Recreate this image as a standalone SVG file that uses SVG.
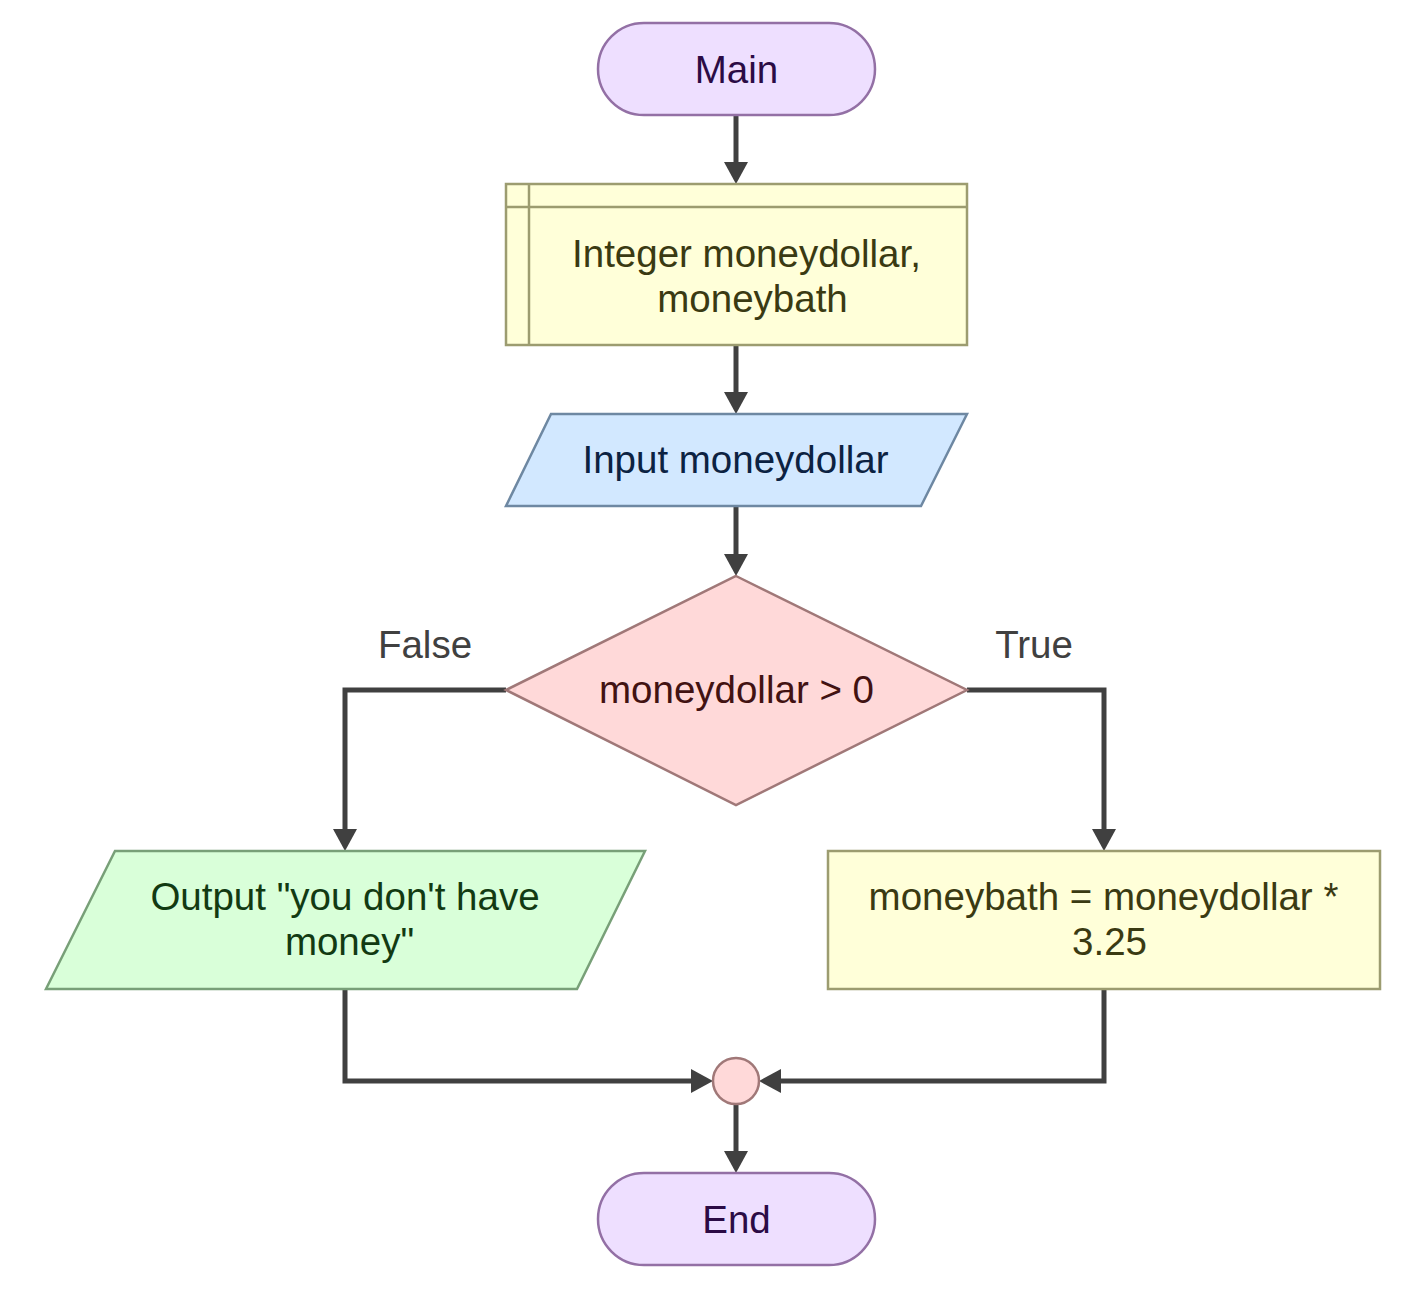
<svg xmlns="http://www.w3.org/2000/svg" width="1404" height="1289" viewBox="0 0 1404 1289">
<style>
text{font-family:"Liberation Sans",Arial,sans-serif;font-size:38.5px;text-anchor:middle}
.term{fill:#eedfff;stroke:#9370a5;stroke-width:2.5}
.term-t{fill:#2b0b45}
.proc{fill:#ffffd9;stroke:#9c9c70;stroke-width:2.5}
.proc-t{fill:#3a3a12}
.inp{fill:#d2e8ff;stroke:#6e88a2;stroke-width:2.5}
.inp-t{fill:#0c2242}
.dec{fill:#ffd9d9;stroke:#a07878;stroke-width:2.5}
.dec-t{fill:#421212}
.out{fill:#d9ffd9;stroke:#78a078;stroke-width:2.5}
.out-t{fill:#123a12}
.edge{fill:none;stroke:#404040;stroke-width:5;stroke-linejoin:miter;marker-end:url(#arrow)}
.lbl{fill:#404040;text-anchor:middle}
</style>
<defs>
<marker id="arrow" viewBox="0 0 22 24" markerWidth="22" markerHeight="24" refX="12" refY="12" orient="auto" markerUnits="userSpaceOnUse">
<path d="M0,0 L22,12 L0,24 Z" fill="#404040"/>
</marker>
</defs>
<g id="connectors">
<path class="edge" d="M736,115 V174"/>
<path class="edge" d="M736,345 V404"/>
<path class="edge" d="M736,506 V566"/>
<path class="edge" d="M506,690 H345 V841"/>
<path class="edge" d="M967,690 H1104 V841"/>
<path class="edge" d="M345,989 V1081 H703"/>
<path class="edge" d="M1104,989 V1081 H769"/>
<path class="edge" d="M736,1104 V1163"/>
<text class="lbl" x="425" y="658">False</text>
<text class="lbl" x="1034" y="658">True</text>
</g>
<g id="main">
<rect class="term" x="598" y="23" width="277" height="92" rx="46" ry="46"/>
<text class="term-t" x="736.5" y="83">Main</text>
</g>
<g id="declare">
<rect class="proc" x="506" y="184" width="461" height="161"/>
<line x1="506" y1="207" x2="967" y2="207" stroke="#9c9c70" stroke-width="2.5"/>
<line x1="529" y1="184" x2="529" y2="345" stroke="#9c9c70" stroke-width="2.5"/>
<text class="proc-t" x="746.5" y="267">Integer moneydollar,</text>
<text class="proc-t" x="752.5" y="312">moneybath</text>
</g>
<g id="input">
<polygon class="inp" points="551,414 967,414 921,506 506,506"/>
<text class="inp-t" x="735.5" y="473">Input moneydollar</text>
</g>
<g id="decision">
<polygon class="dec" points="736,576 967,690 736,805 506,690"/>
<text class="dec-t" x="736.5" y="703">moneydollar &gt; 0</text>
</g>
<g id="output">
<polygon class="out" points="115,851 645,851 577,989 46,989"/>
<text class="out-t" x="345" y="910">Output "you don't have</text>
<text class="out-t" x="349.5" y="955">money"</text>
</g>
<g id="assign">
<rect class="proc" x="828" y="851" width="552" height="138"/>
<text class="proc-t" x="1103.5" y="910">moneybath = moneydollar *</text>
<text class="proc-t" x="1109.5" y="955">3.25</text>
</g>
<g id="junction">
<circle class="dec" cx="736" cy="1081" r="23"/>
</g>
<g id="end">
<rect class="term" x="598" y="1173" width="277" height="92" rx="46" ry="46"/>
<text class="term-t" x="736.5" y="1233">End</text>
</g>
</svg>
